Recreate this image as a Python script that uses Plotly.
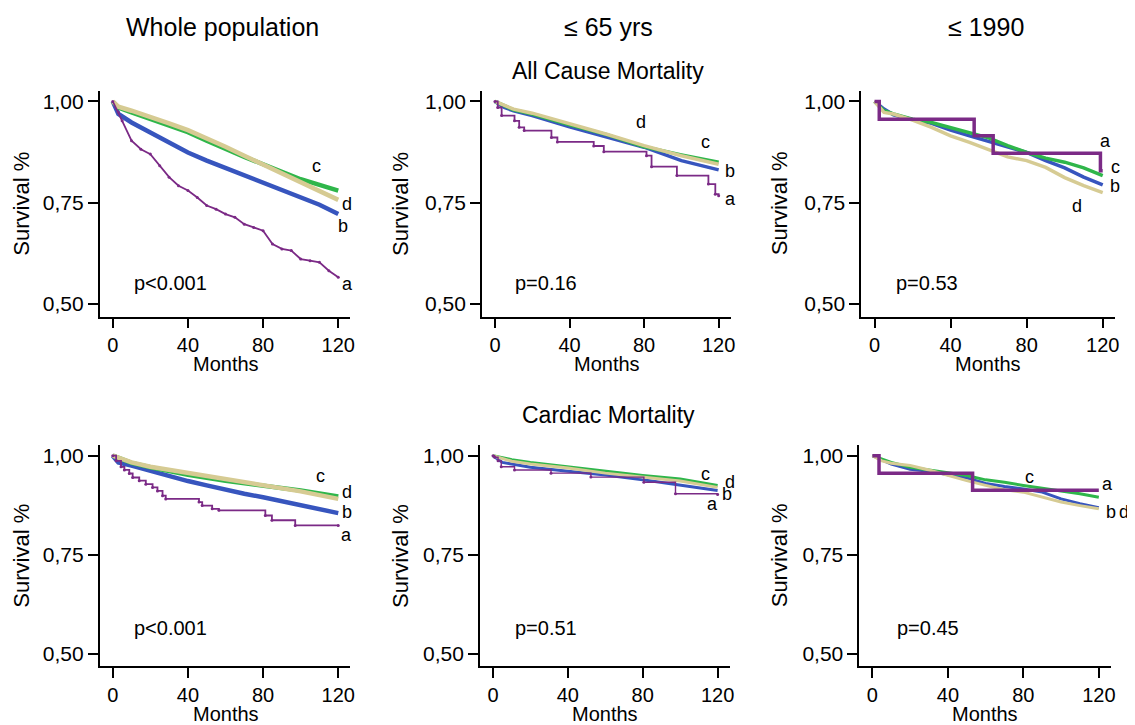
import plotly.graph_objects as go

# page has an 8px body margin: work in reference pixels and shift by OFF
OFF = 8
W, H = 1135 - OFF, 725 - OFF
XR = [-7.0, 126.5]
YR = [0.469, 1.026]

COLORS = {"a": "#7B2A86", "b": "#3755BE", "c": "#2FB64A", "d": "#D6CB93"}

# ---------------- data ----------------
# Panel 1: Whole population, all-cause mortality
p1_a_m = [0, 3, 5, 10, 15, 20, 25, 30, 35, 40, 45, 50, 55, 60, 65, 70, 75, 80, 85, 90, 95, 100, 105, 110, 115, 120]
p1_a_v = [1.0, 0.973, 0.952, 0.903, 0.882, 0.870, 0.841, 0.813, 0.792, 0.780, 0.763, 0.743, 0.734, 0.722, 0.714,
          0.697, 0.689, 0.681, 0.648, 0.636, 0.632, 0.611, 0.607, 0.603, 0.582, 0.566]
p1_m = [0, 3, 10, 20, 30, 40, 50, 60, 70, 80, 90, 100, 110, 120]
p1_b_v = [1.0, 0.969, 0.948, 0.924, 0.899, 0.874, 0.854, 0.836, 0.817, 0.798, 0.780, 0.763, 0.745, 0.722]
p1_c_v = [1.0, 0.985, 0.973, 0.956, 0.940, 0.924, 0.903, 0.882, 0.863, 0.845, 0.825, 0.808, 0.794, 0.780]
p1_d_v = [1.0, 0.987, 0.977, 0.962, 0.946, 0.929, 0.910, 0.888, 0.866, 0.844, 0.821, 0.800, 0.780, 0.757]

# Panel 2: <= 65 yrs, all-cause mortality
p2_a_m = [0, 1.5, 3.6, 10.5, 13, 15.7, 30.3, 33.5, 53, 58.4, 81.3, 84, 97.6, 114.5, 118.2, 120]
p2_a_v = [1.0, 0.985, 0.965, 0.952, 0.936, 0.928, 0.911, 0.900, 0.890, 0.876, 0.866, 0.839, 0.817, 0.796, 0.771, 0.767]
p2_m = [0, 10, 20, 40, 60, 80, 100, 120]
p2_b_m = [0, 5, 10, 20, 40, 60, 80, 100, 120]
p2_b_v = [1.0, 0.985, 0.977, 0.965, 0.9375, 0.913, 0.887, 0.854, 0.831]
p2_c_v = [1.0, 0.979, 0.969, 0.942, 0.918, 0.888, 0.868, 0.850]
p2_d_v = [1.0, 0.981, 0.971, 0.946, 0.919, 0.891, 0.866, 0.845]

# Panel 3: <= 1990, all-cause mortality
p3_a_m = [0, 2.5, 52.4, 62.4, 118.8, 120]
p3_a_v = [1.0, 0.956, 0.915, 0.872, 0.829, 0.829]
p3_m = [0, 5, 10, 20, 30, 40, 50, 60, 70, 80, 90, 100, 110, 120]
p3_b_v = [1.0, 0.981, 0.967, 0.955, 0.946, 0.929, 0.915, 0.901, 0.888, 0.874, 0.854, 0.836, 0.813, 0.794]
p3_c_v = [1.0, 0.977, 0.969, 0.956, 0.948, 0.936, 0.924, 0.910, 0.891, 0.874, 0.860, 0.850, 0.836, 0.817]
p3_d_v = [1.0, 0.973, 0.969, 0.954, 0.936, 0.915, 0.899, 0.882, 0.863, 0.854, 0.837, 0.812, 0.792, 0.775]

# Panel 4: Whole population, cardiac mortality
p4_a_m = [0, 1.8, 4.4, 6.2, 8.8, 10.6, 14.1, 17.6, 21.2, 23.8, 26.5, 28.2, 45.9, 47.6, 52.9, 56.5, 81.2, 84.7, 97.1, 120]
p4_a_v = [1.0, 0.987, 0.972, 0.964, 0.955, 0.945, 0.937, 0.928, 0.920, 0.911, 0.899, 0.891, 0.883, 0.874, 0.866,
          0.862, 0.849, 0.837, 0.824, 0.824]
p4_b_m = [0, 3, 10, 20, 30, 40, 50, 60, 70, 80, 90, 100, 110, 120]
p4_b_v = [1.0, 0.983, 0.975, 0.962, 0.947, 0.936, 0.925, 0.914, 0.904, 0.895, 0.885, 0.874, 0.864, 0.855]
p4_c_m = [0, 10, 20, 30, 40, 60, 80, 100, 120]
p4_c_v = [1.0, 0.982, 0.971, 0.961, 0.952, 0.937, 0.925, 0.912, 0.897]
p4_d_m = [0, 10, 20, 40, 60, 80, 100, 120]
p4_d_v = [1.0, 0.983, 0.972, 0.956, 0.941, 0.925, 0.910, 0.891]

# Panel 5: <= 65 yrs, cardiac mortality
p5_a_m = [0, 0.9, 2.7, 4.4, 11.5, 31.0, 52.3, 80.6, 97.5, 120]
p5_a_v = [1.0, 0.996, 0.987, 0.972, 0.964, 0.956, 0.946, 0.933, 0.904, 0.902]
p5_b_m = [0, 5, 10, 20, 40, 60, 80, 100, 120]
p5_b_v = [1.0, 0.983, 0.979, 0.971, 0.961, 0.951, 0.939, 0.925, 0.912]
p5_c_m = [0, 10, 20, 40, 60, 80, 100, 110, 120]
p5_c_v = [1.0, 0.990, 0.983, 0.972, 0.962, 0.950, 0.941, 0.933, 0.925]
p5_d_m = [0, 10, 20, 40, 60, 80, 100, 120]
p5_d_v = [1.0, 0.986, 0.979, 0.969, 0.956, 0.946, 0.936, 0.920]

# Panel 6: <= 1990, cardiac mortality
p6_a_m = [0, 3.5, 53.1, 120]
p6_a_v = [1.0, 0.956, 0.913, 0.913]
p6_m = [0, 10, 20, 30, 40, 50, 60, 70, 80, 90, 100, 110, 120]
p6_b_v = [1.0, 0.979, 0.966, 0.961, 0.952, 0.944, 0.930, 0.922, 0.916, 0.908, 0.891, 0.879, 0.869]
p6_c_v = [1.0, 0.983, 0.971, 0.964, 0.958, 0.950, 0.939, 0.933, 0.925, 0.918, 0.912, 0.904, 0.895]
p6_d_m = [0, 5, 10, 20, 30, 40, 50, 60, 70, 80, 90, 100, 110, 120]
p6_d_v = [1.0, 0.987, 0.981, 0.975, 0.964, 0.950, 0.937, 0.925, 0.914, 0.908, 0.895, 0.883, 0.874, 0.866]

col_titles = ["Whole population", "\u2264 65 yrs", "\u2264 1990"]
row_titles = ["All Cause Mortality", "Cardiac Mortality"]
p_values = ["p<0.001", "p=0.16", "p=0.53", "p<0.001", "p=0.51", "p=0.45"]
xticks = [0, 40, 80, 120]
yticks = [0.5, 0.75, 1.0]
yticktext = ["0,50", "0,75", "1,00"]

# label positions (month, survival) per panel
labels = [
    {"a": (124.9, 0.549), "b": (122.6, 0.693), "c": (108.5, 0.841), "d": (124.4, 0.747)},
    {"a": (126.2, 0.759), "b": (126.2, 0.829), "c": (112.9, 0.899), "d": (78.1, 0.948)},
    {"a": (121.4, 0.903), "b": (126.6, 0.792), "c": (126.6, 0.837), "d": (106.6, 0.743)},
    {"a": (124.4, 0.800), "b": (124.4, 0.858), "c": (110.3, 0.950), "d": (124.4, 0.908)},
    {"a": (117.0, 0.877), "b": (125.0, 0.904), "c": (113.4, 0.954), "d": (126.4, 0.933)},
    {"a": (124.4, 0.929), "b": (126.2, 0.858), "c": (83.4, 0.946), "d": (133.2, 0.858)},
]
p_pos = [(10.4, 0.553), (9.5, 0.553), (10.5, 0.553), (10.5, 0.565), (10.6, 0.565), (11.8, 0.565)]

panels = [
    {"a": (p1_a_m, p1_a_v), "b": (p1_m, p1_b_v), "c": (p1_m, p1_c_v), "d": (p1_m, p1_d_v)},
    {"a": (p2_a_m, p2_a_v), "b": (p2_b_m, p2_b_v), "c": (p2_m, p2_c_v), "d": (p2_m, p2_d_v)},
    {"a": (p3_a_m, p3_a_v), "b": (p3_m, p3_b_v), "c": (p3_m, p3_c_v), "d": (p3_m, p3_d_v)},
    {"a": (p4_a_m, p4_a_v), "b": (p4_b_m, p4_b_v), "c": (p4_c_m, p4_c_v), "d": (p4_d_m, p4_d_v)},
    {"a": (p5_a_m, p5_a_v), "b": (p5_b_m, p5_b_v), "c": (p5_c_m, p5_c_v), "d": (p5_d_m, p5_d_v)},
    {"a": (p6_a_m, p6_a_v), "b": (p6_m, p6_b_v), "c": (p6_m, p6_c_v), "d": (p6_d_m, p6_d_v)},
]

# ---------------- layout geometry (reference pixels) ----------------
x_dom_px = [(100, 352), (484, 734), (865, 1120), (100, 352), (482, 733), (863, 1116)]
y_dom_px = [(90, 316), (90, 316), (90, 316), (445, 666), (445, 666), (445, 666)]
smooth_w = [4.5, 3.5, 3.5, 4.5, 3.0, 3.0]
a_w = [1.8, 1.8, 3.5, 1.8, 1.4, 3.5]
a_shape = ["linear", "hv", "hv", "hv", "hv", "hv"]
a_marker = [True, True, False, True, True, False]

FONT = "Liberation Sans, Arial, Helvetica, sans-serif"

def px_x(p):
    return (p - OFF) / W

def px_y(p):
    return 1 - (p - OFF) / H

fig = go.Figure()
layout = dict(width=W, height=H, margin=dict(l=0, r=0, t=0, b=0),
              paper_bgcolor="white", plot_bgcolor="white", showlegend=False,
              font=dict(family=FONT, color="black"))
annotations = []

for i in range(6):
    n = "" if i == 0 else str(i + 1)
    xa, ya = "x" + n, "y" + n
    for g in ["b", "c", "d", "a"]:
        m, v = panels[i][g]
        if g == "a":
            fig.add_trace(go.Scatter(
                x=m, y=v, xaxis=xa, yaxis=ya,
                mode="lines+markers" if a_marker[i] else "lines",
                line=dict(color=COLORS[g], width=a_w[i], shape=a_shape[i]),
                marker=dict(size=3, color=COLORS[g]), cliponaxis=False))
        else:
            fig.add_trace(go.Scatter(
                x=m, y=v, xaxis=xa, yaxis=ya, mode="lines",
                line=dict(color=COLORS[g], width=smooth_w[i]), cliponaxis=False))
    x0, x1 = x_dom_px[i]
    y0, y1 = y_dom_px[i]
    layout["xaxis" + n] = dict(domain=[px_x(x0), px_x(x1)], range=XR, anchor=ya,
                               showline=True, linecolor="black", linewidth=1.5,
                               ticks="outside", ticklen=10, tickwidth=1.5, tickcolor="black",
                               tickvals=xticks, showgrid=False, zeroline=False,
                               tickfont=dict(size=20, family=FONT, color="black"))
    layout["yaxis" + n] = dict(domain=[px_y(y1), px_y(y0)], range=YR, anchor=xa,
                               showline=True, linecolor="black", linewidth=1.5,
                               ticks="outside", ticklen=10, tickwidth=1.5, tickcolor="black",
                               tickvals=yticks, ticktext=yticktext, showgrid=False, zeroline=False,
                               tickfont=dict(size=21, family=FONT, color="black"))
    # series labels
    for g, (lm, lv) in labels[i].items():
        fx = (lm - XR[0]) / (XR[1] - XR[0])
        fy = (lv - YR[0]) / (YR[1] - YR[0])
        annotations.append(dict(x=fx, y=fy, xref=xa + " domain", yref=ya + " domain",
                                text=g, showarrow=False, font=dict(size=18, color="black"),
                                xanchor="center", yanchor="middle"))
    # p-value
    pm, pv = p_pos[i]
    annotations.append(dict(x=pm, y=pv, xref=xa, yref=ya, text=p_values[i], showarrow=False,
                            font=dict(size=20, color="black"), xanchor="left", yanchor="middle"))

# axis titles
ylab_x = [22, 402, 783]
tick0_px = [113.3, 497.3, 878.3, 113.3, 495, 876]
tick120_px = [340, 721.7, 1107.3, 340, 720.7, 1103.3]
for i in range(6):
    r = i // 3
    c = i % 3
    y0, y1 = y_dom_px[i]
    annotations.append(dict(x=px_x(ylab_x[c]), y=px_y((y0 + y1) / 2), xref="paper", yref="paper",
                            text="Survival %", textangle=-90, showarrow=False,
                            font=dict(size=22, color="black"), xanchor="center", yanchor="middle"))
    annotations.append(dict(x=px_x((tick0_px[i] + tick120_px[i]) / 2), y=px_y([363, 714][r]),
                            xref="paper", yref="paper", text="Months", showarrow=False,
                            font=dict(size=20, color="black"), xanchor="center", yanchor="middle"))

# column and row titles
col_cx = [223, 611, 990]
for c, t in enumerate(col_titles):
    annotations.append(dict(x=px_x(col_cx[c]), y=px_y(26), xref="paper", yref="paper", text=t,
                            showarrow=False, font=dict(size=25, color="black"),
                            xanchor="center", yanchor="middle"))
for r, t in enumerate(row_titles):
    annotations.append(dict(x=px_x(611), y=px_y([70, 415][r]), xref="paper", yref="paper", text=t,
                            showarrow=False, font=dict(size=23, color="black"),
                            xanchor="center", yanchor="middle"))

layout["annotations"] = annotations
fig.update_layout(**layout)
fig.write_html("out.html")
